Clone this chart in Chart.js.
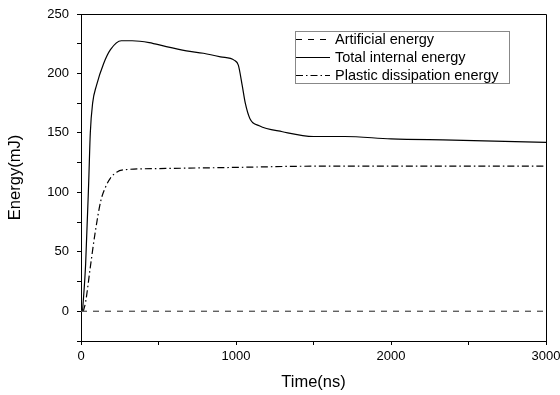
<!DOCTYPE html>
<html>
<head>
<meta charset="utf-8">
<script src="https://cdn.jsdelivr.net/npm/chart.js@4"></script>
<style>
  body { margin: 0; background: #fff; }
  canvas { display: block; }
</style>
</head>
<body>
<canvas id="energy-chart" width="560" height="395"></canvas>
<script>
// values
const artificialTime = [0, 3000];
const artificialEnergy = [0, 0];

const totalTime = [10, 30, 50, 60, 75, 100, 145, 190, 260, 330, 440, 550, 680, 790, 900, 990, 1015, 1040, 1060, 1090, 1150, 1300, 1500, 1700, 2000, 2400, 3000];
const totalEnergy = [0, 40, 110, 150, 175, 190, 208, 220, 227.5, 227.5, 226, 222.5, 219, 217, 214, 211, 207, 190, 175, 162, 156, 151, 147, 147, 145, 144, 142];

const plasticTime = [15, 30, 60, 90, 128, 160, 190, 230, 280, 500, 1000, 1500, 2000, 3000];
const plasticEnergy = [0, 8, 37, 65, 93, 105, 112, 117, 119, 120, 121, 122, 122, 122];

const seriesNames = ['Artificial energy', 'Total internal energy', 'Plastic dissipation energy'];

const xMin = 0, xMax = 3000, xStep = 500, xLabelStep = 1000;
const yMin = -25, yMax = 250, yStep = 25, yLabelStep = 50;

function toPoints(xs, ys){
	let pts = [];
	for(let i = 0; i < xs.length; i++){
		pts.push({x: xs[i], y: ys[i]});
	}
	return pts;
}

const font = "'Liberation Sans', Arial, sans-serif";

// box round the plot area
const frame = {
	id: 'frame',
	afterDraw(chart){
		const a = chart.chartArea;
		const ctx = chart.ctx;
		ctx.save();
		ctx.strokeStyle = '#000';
		ctx.lineWidth = 1;
		ctx.beginPath();
		ctx.moveTo(Math.round(a.left) + 0.5, Math.round(a.top) + 0.5);
		ctx.lineTo(Math.round(a.right) + 0.5, Math.round(a.top) + 0.5);
		ctx.lineTo(Math.round(a.right) + 0.5, Math.round(a.bottom) + 0.5);
		ctx.stroke();
		ctx.restore();
	}
};

// legend box inside the plot, upper right
const boxLegend = {
	id: 'boxLegend',
	afterDraw(chart){
		const ctx = chart.ctx;
		const left = 295, top = 31, w = 214, h = 52, rowH = 18.3;
		ctx.save();
		ctx.fillStyle = '#fff';
		ctx.fillRect(left, top, w, h);
		ctx.strokeStyle = '#888';
		ctx.lineWidth = 1;
		ctx.strokeRect(left + 0.5, top + 0.5, w, h);
		ctx.font = '14.5px ' + font;
		ctx.textBaseline = 'middle';
		chart.data.datasets.forEach((ds, i) => {
			const y = Math.round(top + 7.5 + i * rowH) + 0.5;
			ctx.strokeStyle = '#000';
			ctx.lineWidth = 1;
			ctx.setLineDash(ds.borderDash || []);
			ctx.beginPath();
			ctx.moveTo(left + 1, y);
			ctx.lineTo(left + 35, y);
			ctx.stroke();
			ctx.setLineDash([]);
			ctx.fillStyle = '#000';
			ctx.fillText(ds.label, left + 40, y);
		});
		ctx.restore();
	}
};

new Chart(document.getElementById('energy-chart').getContext('2d'), {
	type: 'line',
	data: {
		datasets: [
			{
				label: seriesNames[0],
				data: toPoints(artificialTime, artificialEnergy),
				borderColor: '#555',
				borderWidth: 1.3,
				borderDash: [6, 6]
			},
			{
				label: seriesNames[1],
				data: toPoints(totalTime, totalEnergy),
				borderColor: '#000',
				borderWidth: 1.2,
				cubicInterpolationMode: 'monotone'
			},
			{
				label: seriesNames[2],
				data: toPoints(plasticTime, plasticEnergy),
				borderColor: '#000',
				borderWidth: 1.2,
				borderDash: [7, 3, 1.5, 3],
				cubicInterpolationMode: 'monotone'
			}
		]
	},
	options: {
		responsive: false,
		animation: false,
		elements: { point: { radius: 0 } },
		layout: { padding: { top: 14, right: 14, left: 0, bottom: 0 } },
		plugins: { legend: { display: false }, tooltip: { enabled: false } },
		scales: {
			x: {
				type: 'linear',
				min: xMin,
				max: xMax,
				afterFit(s){ s.height = 54; s.paddingRight = 0; s.paddingLeft = 0; },
				border: { color: '#000', width: 1 },
				grid: { drawOnChartArea: false, tickColor: '#000', tickLength: 4 },
				ticks: {
					stepSize: xStep,
					color: '#000',
					padding: 4,
					maxRotation: 0,
					font: { family: font, size: 13 },
					callback: (v) => (v % xLabelStep === 0 ? v : '')
				},
				title: {
					display: true,
					text: 'Time(ns)',
					color: '#000',
					padding: { top: 0, bottom: 3 },
					font: { family: font, size: 16.5 }
				}
			},
			y: {
				type: 'linear',
				min: yMin,
				max: yMax,
				afterFit(s){ s.width = 81; s.paddingTop = 0; s.paddingBottom = 0; },
				border: { color: '#000', width: 1 },
				grid: { drawOnChartArea: false, tickColor: '#000', tickLength: 4 },
				ticks: {
					stepSize: yStep,
					color: '#000',
					padding: 8,
					font: { family: font, size: 13 },
					callback: (v) => (v % yLabelStep === 0 ? v : '')
				},
				title: {
					display: true,
					text: 'Energy(mJ)',
					color: '#000',
					padding: { top: 6, bottom: 0 },
					font: { family: font, size: 16.5 }
				}
			}
		}
	},
	plugins: [frame, boxLegend]
});
</script>
</body>
</html>
